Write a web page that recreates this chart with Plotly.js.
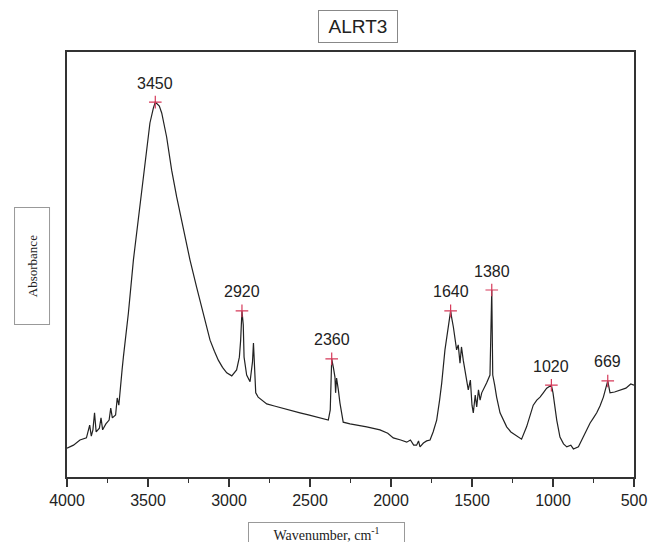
<!DOCTYPE html>
<html>
<head>
<meta charset="utf-8">
<script src="https://cdn.plot.ly/plotly-3.0.1.min.js"></script>
<style>html,body{margin:0;padding:0;background:#fff;}#chart{width:649px;height:542px;}</style>
</head>
<body>
<div id="chart"></div>
<script>
// Wavenumber (cm^-1) and absorbance (arbitrary units)
const wavenumber = [4000,3960,3920,3880,3860,3850,3840,3830,3820,3800,3790,3780,3760,3740,3730,3720,3700,3690,3680,3673,3660,3652,3621,3590,3566,3539,3512,3488,3467,3455,3430,3415,3385,3354,3323,3282,3241,3200,3159,3117,3090,3066,3040,3014,2983,2953,2936,2928,2920,2912,2907,2891,2870,2855,2849,2843,2835,2820,2795,2767,2720,2665,2610,2562,2510,2459,2420,2387,2375,2366,2355,2346,2342,2336,2325,2315,2295,2253,2150,2068,2020,1986,1940,1903,1880,1860,1842,1830,1821,1800,1780,1759,1740,1718,1700,1687,1667,1646,1632,1625,1615,1595,1585,1574,1565,1554,1540,1523,1510,1500,1492,1480,1471,1460,1450,1440,1410,1389,1378,1372,1360,1348,1327,1300,1286,1260,1235,1194,1163,1140,1122,1100,1080,1060,1039,1010,1000,977,957,935,915,890,874,843,813,790,771,750,730,710,689,662,655,648,620,586,550,520,500];
const absorbance = [0.068,0.075,0.087,0.092,0.122,0.096,0.111,0.151,0.106,0.115,0.139,0.111,0.125,0.134,0.162,0.139,0.146,0.186,0.169,0.205,0.252,0.282,0.386,0.511,0.588,0.668,0.753,0.833,0.868,0.882,0.873,0.856,0.800,0.722,0.659,0.581,0.511,0.447,0.386,0.322,0.296,0.275,0.258,0.245,0.238,0.252,0.282,0.322,0.391,0.358,0.282,0.240,0.224,0.271,0.315,0.252,0.198,0.188,0.181,0.172,0.167,0.162,0.157,0.151,0.146,0.141,0.137,0.134,0.158,0.278,0.256,0.235,0.198,0.233,0.205,0.174,0.129,0.125,0.118,0.111,0.103,0.092,0.087,0.082,0.087,0.075,0.075,0.085,0.071,0.080,0.085,0.087,0.106,0.134,0.181,0.221,0.299,0.362,0.391,0.374,0.353,0.299,0.311,0.268,0.306,0.275,0.247,0.205,0.228,0.169,0.151,0.193,0.165,0.205,0.181,0.198,0.221,0.240,0.440,0.240,0.216,0.188,0.151,0.127,0.118,0.106,0.099,0.089,0.118,0.146,0.169,0.181,0.188,0.198,0.209,0.216,0.198,0.134,0.094,0.078,0.071,0.075,0.066,0.071,0.094,0.111,0.127,0.139,0.151,0.167,0.188,0.226,0.205,0.198,0.200,0.205,0.209,0.219,0.216];

// Labelled peaks
const peakX = [3455,2920,2366,1632,1378,1010,662];
const peakY = [0.882,0.391,0.278,0.391,0.440,0.216,0.226];
const peakLabels = ['3450','2920','2360','1640','1380','1020','669'];

// Axis tick values and labels
const xTickVals = [4000,3500,3000,2500,2000,1500,1000,500];
const xTickText = ['4000','3500','3000','2500','2000','1500','1000','500'];

const titleText = 'ALRT3';
const xTitleText = 'Wavenumber, cm<sup>-1</sup>';
const yTitleText = 'Absorbance';

const traces = [
  {
    x: wavenumber, y: absorbance, type: 'scatter', mode: 'lines',
    line: {color: '#222', width: 1.2}, hoverinfo: 'skip'
  },
  {
    x: peakX, y: peakY, type: 'scatter', mode: 'markers',
    marker: {symbol: 'cross-thin', size: 9, color: '#d63a5a', line: {color: '#d63a5a', width: 1.2}},
    hoverinfo: 'skip'
  }
];

const annotations = peakLabels.map((t, i) => ({
  x: peakX[i], y: peakY[i], xref: 'x', yref: 'y', text: t, showarrow: false,
  yanchor: 'middle', xanchor: 'center', yshift: 19,
  font: {family: 'Liberation Sans, Arial, sans-serif', size: 16, color: '#222'}
}));

annotations.push({
  x: 0.513, y: 1.059, xref: 'paper', yref: 'paper', text: titleText, showarrow: false,
  xanchor: 'center', yanchor: 'middle', width: 78, height: 31, borderpad: 0,
  bordercolor: '#888', borderwidth: 1, bgcolor: '#fff',
  font: {family: 'Liberation Sans, Arial, sans-serif', size: 19, color: '#222'}
});
annotations.push({
  x: -0.0617, y: 0.4965, xref: 'paper', yref: 'paper', text: yTitleText, showarrow: false,
  xanchor: 'center', yanchor: 'middle', textangle: -90, width: 116, height: 34, borderpad: 0,
  bordercolor: '#999', borderwidth: 1, bgcolor: '#fff',
  font: {family: 'Liberation Serif, Times New Roman, serif', size: 13, color: '#222'}
});
annotations.push({
  x: 0.4577, y: -0.1345, xref: 'paper', yref: 'paper', text: xTitleText, showarrow: false,
  xanchor: 'center', yanchor: 'middle', width: 155, height: 22, borderpad: 0,
  bordercolor: '#999', borderwidth: 1, bgcolor: '#fff',
  font: {family: 'Liberation Serif, Times New Roman, serif', size: 14, color: '#222'}
});

const layout = {
  width: 649, height: 542,
  margin: {l: 67, r: 15, t: 52, b: 65},
  paper_bgcolor: '#fff', plot_bgcolor: '#fff',
  showlegend: false,
  xaxis: {
    range: [4000, 500], tickvals: xTickVals, ticktext: xTickText,
    ticks: 'outside', ticklen: 8, tickwidth: 1.5, tickcolor: '#333',
    minor: {ticks: 'outside', ticklen: 4, tickwidth: 1.5, tickcolor: '#333', dtick: 250, tick0: 500, showgrid: false},
    showline: true, linecolor: '#333', linewidth: 2, mirror: true,
    showgrid: false, zeroline: false,
    tickfont: {family: 'Liberation Sans, Arial, sans-serif', size: 16, color: '#222'}
  },
  yaxis: {
    range: [0, 1], showticklabels: false, ticks: '',
    showline: true, linecolor: '#333', linewidth: 2, mirror: true,
    showgrid: false, zeroline: false
  },
  annotations: annotations
};

Plotly.newPlot('chart', traces, layout, {staticPlot: true, displayModeBar: false});
</script>
</body>
</html>
